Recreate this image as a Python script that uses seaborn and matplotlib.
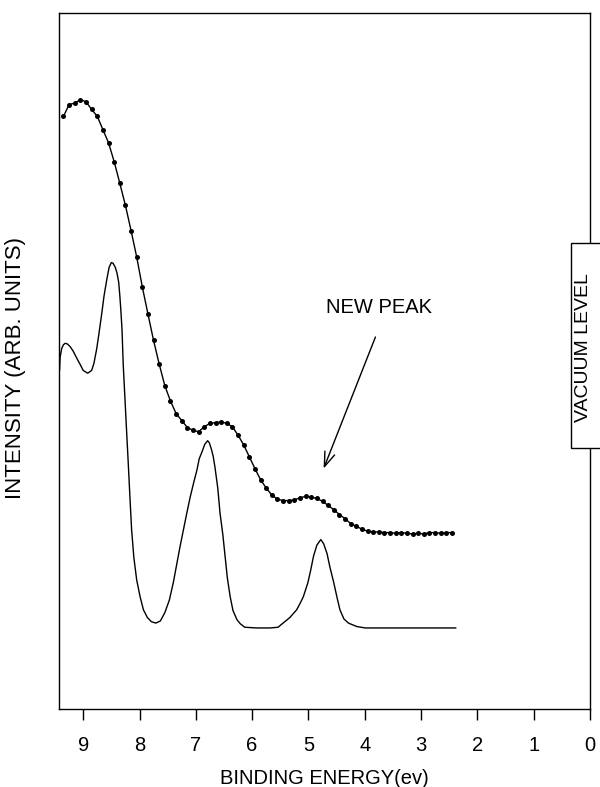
import numpy as np
import pandas as pd
import matplotlib.pyplot as plt
import seaborn as sns
from matplotlib.patches import Rectangle

# upper spectrum: measured points every 0.1 eV
energy_top = np.round(9.35 - 0.1 * np.arange(70), 2)
intensity_top = [85.1, 86.8, 87.0, 87.5, 87.2, 86.1, 85.1, 83.2, 81.3, 78.6,
                 75.5, 72.3, 68.7, 64.9, 60.6, 56.7, 52.9, 49.5, 46.4, 44.2,
                 42.4, 41.4, 40.4, 40.0, 39.8, 40.5, 41.0, 41.1, 41.2, 41.0,
                 40.5, 39.3, 37.9, 36.2, 34.5, 32.9, 31.7, 30.7, 30.1, 29.9,
                 29.9, 30.0, 30.3, 30.5, 30.4, 30.2, 29.8, 29.2, 28.6, 27.9,
                 27.3, 26.6, 26.2, 25.8, 25.5, 25.4, 25.4, 25.3, 25.3, 25.2,
                 25.3, 25.2, 25.1, 25.2, 25.1, 25.3, 25.3, 25.2, 25.3, 25.3]

# lower spectrum: calculated curve
energy_bot = [9.42, 9.41, 9.38, 9.35, 9.32, 9.28, 9.23, 9.18, 9.11, 9.05,
              9.00, 8.92, 8.85, 8.81, 8.76, 8.72, 8.67, 8.63, 8.58, 8.54,
              8.50, 8.47, 8.43, 8.40, 8.37, 8.35, 8.33, 8.31, 8.29, 8.26,
              8.23, 8.20, 8.17, 8.14, 8.10, 8.05, 7.99, 7.93, 7.86, 7.79,
              7.71, 7.63, 7.55, 7.47, 7.40, 7.34, 7.28, 7.22, 7.16, 7.10,
              7.04, 6.98, 6.94, 6.89, 6.84, 6.79, 6.76, 6.72, 6.69, 6.66,
              6.61, 6.57, 6.52, 6.48, 6.44, 6.39, 6.34, 6.27, 6.21, 6.13,
              5.92, 5.68, 5.54, 5.45, 5.33, 5.21, 5.15, 5.09, 5.01, 4.96,
              4.91, 4.85, 4.78, 4.73, 4.67, 4.62, 4.55, 4.49, 4.44, 4.37,
              4.29, 4.14, 3.99, 2.38]
intensity_bot = [48.6, 50.5, 51.8, 52.3, 52.5, 52.4, 52.0, 51.4, 50.3, 49.4,
                 48.6, 48.2, 48.6, 49.6, 51.7, 53.9, 56.8, 59.3, 61.7, 63.4,
                 64.1, 64.0, 63.4, 62.6, 61.3, 59.4, 57.1, 54.4, 49.6, 44.8,
                 40.0, 35.3, 30.4, 25.7, 21.7, 18.5, 16.1, 14.2, 13.1, 12.5,
                 12.3, 12.6, 13.8, 15.6, 18.1, 20.7, 23.3, 25.7, 28.1, 30.4,
                 32.4, 34.3, 35.9, 36.9, 38.0, 38.5, 38.2, 37.2, 36.2, 34.7,
                 31.7, 28.1, 25.0, 21.9, 18.8, 16.1, 14.1, 12.8, 12.2, 11.7,
                 11.6, 11.6, 11.7, 12.3, 13.1, 14.2, 15.1, 16.1, 18.1, 19.9,
                 21.9, 23.5, 24.3, 23.7, 22.3, 20.4, 18.1, 15.9, 14.2, 12.9,
                 12.3, 11.8, 11.6, 11.6]

sns.set_style('white')
plt.rcParams['font.family'] = ['Liberation Sans', 'DejaVu Sans']
plt.rcParams['text.color'] = 'black'
plt.rcParams['axes.labelcolor'] = 'black'
plt.rcParams['xtick.color'] = 'black'

fig = plt.figure(figsize=(6, 7.87), dpi=100)
ax = fig.add_axes([0.0983, 0.0995, 0.885, 0.8844])

top = pd.DataFrame({'energy': energy_top, 'intensity': intensity_top})
bot = pd.DataFrame({'energy': energy_bot, 'intensity': intensity_bot})

sns.lineplot(data=top, x='energy', y='intensity', ax=ax, color='black',
             lw=1, marker='o', markersize=3.6, markeredgewidth=0, estimator=None)
sns.lineplot(data=bot, x='energy', y='intensity', ax=ax, color='black',
             lw=1, estimator=None)

ax.set_xlim(9.43, 0)
ax.set_ylim(0, 100)
ax.set_xticks(range(9, -1, -1))
ax.set_yticks([])
ax.tick_params(axis='x', direction='out', length=8, width=1, pad=12,
               labelsize=14.5, bottom=True, colors='black')
for s in ax.spines.values():
    s.set_color('black')
    s.set_linewidth(1)

ax.set_xlabel('BINDING ENERGY(ev)', fontsize=14.5, labelpad=10)
ax.set_ylabel('INTENSITY (ARB. UNITS)', fontsize=16)
ax.yaxis.set_label_coords(-0.062, 0.49)

ax.annotate('', xy=(4.73, 34.5), xytext=(3.81, 53.4),
            arrowprops=dict(arrowstyle='->,head_length=0.7,head_width=0.25',
                            color='black', lw=1, mutation_scale=15,
                            shrinkA=0, shrinkB=0))
ax.text(3.75, 57.7, 'NEW PEAK', fontsize=14.5, ha='center', va='center')

# vacuum level label box sitting on the 0 eV line
ax.add_patch(Rectangle((0.343, 37.45), -0.9, 29.4, facecolor='white',
                       edgecolor='black', lw=1, clip_on=False, zorder=5))
ax.text(0.107, 51.9, 'VACUUM LEVEL', rotation=90, fontsize=14,
        ha='center', va='center', zorder=6, clip_on=False)

fig.savefig('out.png', dpi=100)
